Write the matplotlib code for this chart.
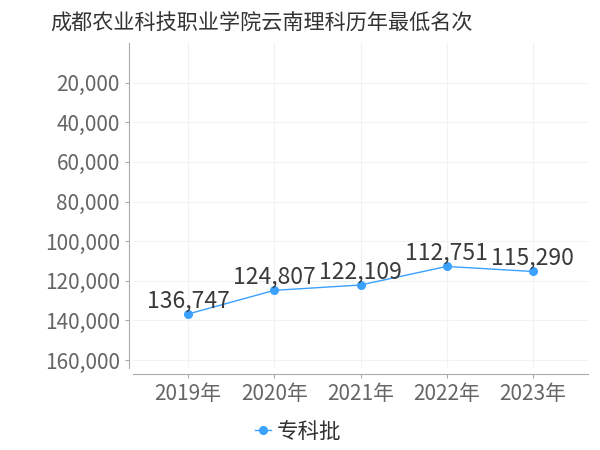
import matplotlib.pyplot as plt
from matplotlib.ticker import FuncFormatter

plt.rcParams['font.family'] = ['Noto Sans CJK SC', 'DejaVu Sans']

years = ['2019年', '2020年', '2021年', '2022年', '2023年']
ranks = [136747, 124807, 122109, 112751, 115290]
series_name = '专科批'
yticks = [20000, 40000, 60000, 80000, 100000, 120000, 140000, 160000]

fig = plt.figure(figsize=(6, 4.5), dpi=100)
ax = fig.add_axes([0.2217, 0.1822, 0.98 - 0.2217, 0.9044 - 0.1822])

x = list(range(len(years)))
ax.plot(x, ranks, color='#3ba1ff', lw=1, marker='o', ms=5.5, label=series_name)

for xi, v in zip(x, ranks):
    ax.annotate(f'{v:,}', (xi, v), xytext=(0, 9.5), textcoords='offset points',
                ha='center', va='center', fontsize=16.5, color='#3a3a3a')

ax.set_xlim(-0.64, 4.64)
ax.set_ylim(164000, 0)
ax.set_xticks(x)
ax.set_xticklabels(years)
ax.set_yticks(yticks)
ax.yaxis.set_major_formatter(FuncFormatter(lambda v, p: f'{int(v):,}'))
ax.tick_params(axis='both', labelsize=15, colors='#666666', length=3, width=0.8)
ax.tick_params(axis='both', color='#aaaaaa')

ax.grid(True, color='#f2f2f2', lw=0.8)
ax.set_axisbelow(True)
for s in ['top', 'right']:
    ax.spines[s].set_visible(False)
ax.spines['left'].set_position(('outward', 3))
ax.spines['bottom'].set_position(('outward', 4))
ax.spines['left'].set_color('#aaaaaa')
ax.spines['bottom'].set_color('#aaaaaa')

fig.suptitle('成都农业科技职业学院云南理科历年最低名次', x=0.436, y=0.972,
             fontsize=15.2, color='#333333')

fig.legend(loc='center', bbox_to_anchor=(0.497, 0.04), frameon=False,
           fontsize=15.5, handlelength=0.75, handletextpad=0.25,
           labelcolor='#333333')

fig.savefig('out.png', dpi=100)
